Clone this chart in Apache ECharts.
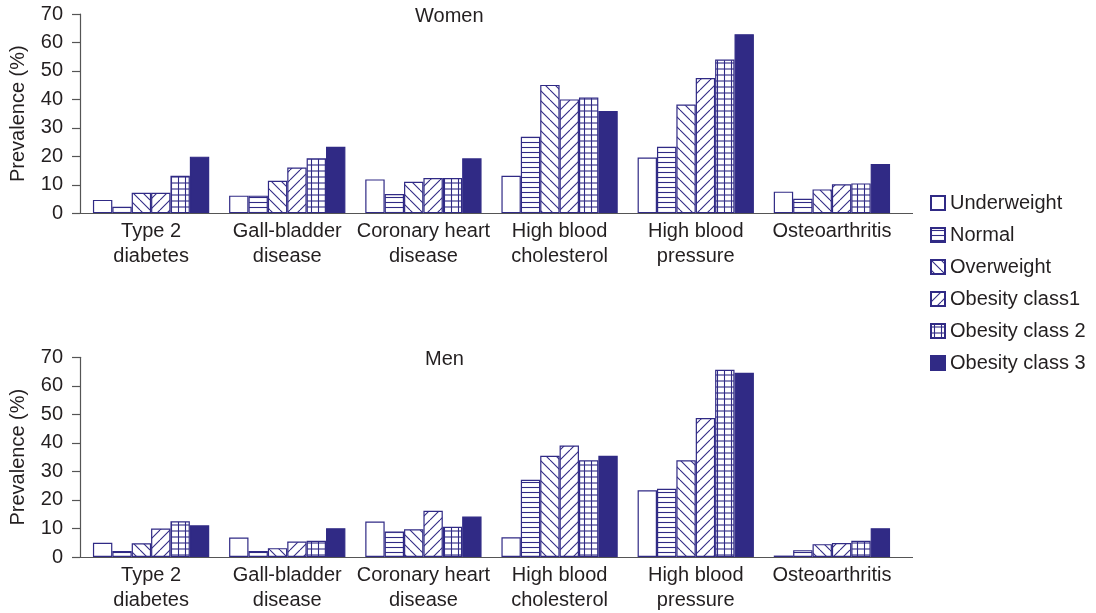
<!DOCTYPE html>
<html>
<head>
<meta charset="utf-8">
<script src="https://cdn.jsdelivr.net/npm/echarts@6/dist/echarts.min.js"></script>
<style>
  html, body { margin: 0; padding: 0; background: #fff; }
  #chart { width: 1096px; height: 613px; }
</style>
</head>
<body>
<div id="chart"></div>
<script>
// Disease categories along the x axis
const categories = ['Type 2\ndiabetes', 'Gall-bladder\ndisease', 'Coronary heart\ndisease',
  'High blood\ncholesterol', 'High blood\npressure', 'Osteoarthritis'];
// BMI groups (one bar series each)
const groups = ['Underweight', 'Normal', 'Overweight', 'Obesity class1', 'Obesity class 2', 'Obesity class 3'];
const yTicks = [0, 10, 20, 30, 40, 50, 60, 70];

// Prevalence (%) – women
const womenUnderweight = [4.7, 6.2, 11.9, 13.2, 19.6, 7.6];
const womenNormal      = [2.3, 6.2, 6.8, 26.9, 23.4, 5.1];
const womenOverweight  = [7.2, 11.4, 11.1, 45.1, 38.2, 8.4];
const womenObesity1    = [7.2, 16.1, 12.4, 40.0, 47.5, 10.2];
const womenObesity2    = [13.2, 19.3, 12.4, 40.7, 54.0, 10.5];
const womenObesity3    = [19.9, 23.4, 19.3, 35.9, 62.9, 17.3];

// Prevalence (%) – men
const menUnderweight = [5.0, 6.8, 12.4, 6.9, 23.4, 0.5];
const menNormal      = [2.1, 2.1, 8.9, 27.1, 23.9, 2.4];
const menOverweight  = [4.8, 3.1, 9.7, 35.5, 33.9, 4.5];
const menObesity1    = [10.0, 5.4, 16.2, 39.1, 48.7, 4.9];
const menObesity2    = [12.5, 5.7, 10.6, 33.9, 65.6, 5.7];
const menObesity3    = [11.1, 10.1, 14.2, 35.5, 64.6, 10.1];

const NAVY = '#302a85';
const AXIS = '#555';
const FONT = '"Liberation Sans", Arial, Helvetica, sans-serif';
const TEXT = '#231f20';
const FS = 20;

// Hatch fills drawn onto small tiles
function makeTile(w, h, draw) {
  const c = document.createElement('canvas');
  c.width = w; c.height = h;
  const ctx = c.getContext('2d');
  ctx.fillStyle = '#fff';
  ctx.fillRect(0, 0, w, h);
  ctx.strokeStyle = NAVY;
  ctx.lineWidth = 1.1;
  draw(ctx, w, h);
  return { image: c, repeat: 'repeat' };
}
function line(ctx, x1, y1, x2, y2) {
  ctx.beginPath(); ctx.moveTo(x1, y1); ctx.lineTo(x2, y2); ctx.stroke();
}
const fills = [
  '#ffffff',
  makeTile(5, 5, (ctx, w, h) => { line(ctx, 0, 2.5, w, 2.5); }),
  makeTile(10, 10, (ctx, w, h) => { for (const k of [-w, 0, w]) line(ctx, k, 0, k + w, h); }),
  makeTile(10, 10, (ctx, w, h) => { for (const k of [-w, 0, w]) line(ctx, k, h, k + w, 0); }),
  makeTile(7, 6, (ctx, w, h) => { line(ctx, 0, 3, w, 3); line(ctx, 3.5, 0, 3.5, h); }),
  NAVY
];

const womenSeries = [womenUnderweight, womenNormal, womenOverweight, womenObesity1, womenObesity2, womenObesity3];
const menSeries = [menUnderweight, menNormal, menOverweight, menObesity1, menObesity2, menObesity3];

function barSeries(values, i, axisIndex) {
  return {
    name: groups[i],
    type: 'bar',
    xAxisIndex: axisIndex,
    yAxisIndex: axisIndex,
    data: values,
    barGap: '0%',
    barCategoryGap: '14.6%',
    itemStyle: { color: fills[i], borderColor: NAVY, borderWidth: 1.2 },
    emphasis: { disabled: true }
  };
}

function xAxis(gridIndex) {
  return {
    type: 'category',
    gridIndex: gridIndex,
    data: categories,
    axisLine: { show: false },
    axisTick: { show: false },
    axisLabel: { color: TEXT, fontFamily: FONT, fontSize: FS, lineHeight: 25, margin: 6, interval: 0 }
  };
}
function yAxis(gridIndex) {
  return {
    type: 'value',
    gridIndex: gridIndex,
    min: yTicks[0],
    max: yTicks[yTicks.length - 1],
    interval: 10,
    offset: 3,
    name: 'Prevalence (%)',
    nameLocation: 'middle',
    nameGap: 52,
    nameTextStyle: { color: TEXT, fontFamily: FONT, fontSize: FS },
    axisLine: { show: true, lineStyle: { color: AXIS, width: 1.2 } },
    axisTick: { show: true, length: 8, lineStyle: { color: AXIS, width: 1.2 } },
    axisLabel: { color: TEXT, fontFamily: FONT, fontSize: FS, margin: 17 },
    splitLine: { show: false }
  };
}

function panelTitles() {
  return [
    { id: 'tWomen', type: 'text', left: 447 - 32, top: 6,
      style: { text: 'Women', fill: TEXT, font: 'normal ' + FS + 'px ' + FONT } },
    { id: 'tMen', type: 'text', left: 447 - 22, top: 349,
      style: { text: 'Men', fill: TEXT, font: 'normal ' + FS + 'px ' + FONT } }
  ];
}

const chart = echarts.init(document.getElementById('chart'), null, { renderer: 'canvas' });
chart.setOption({
  animation: false,
  backgroundColor: '#fff',
  grid: [
    { left: 83, width: 817, top: 14, height: 199.3 },
    { left: 83, width: 817, top: 357.3, height: 200.4 }
  ],
  xAxis: [xAxis(0), xAxis(1)],
  yAxis: [yAxis(0), yAxis(1)],
  legend: {
    orient: 'vertical',
    left: 930,
    top: 193,
    padding: 0,
    itemWidth: 14,
    itemHeight: 14,
    itemGap: 12,
    icon: 'rect',
    data: groups,
    textStyle: { color: TEXT, fontFamily: FONT, fontSize: FS, lineHeight: 20, padding: [0, 0, 0, 0] },
    selectedMode: false
  },
  graphic: panelTitles(),
  series: womenSeries.map((v, i) => barSeries(v, i, 0)).concat(menSeries.map((v, i) => barSeries(v, i, 1)))
});

// Baselines: run from the value axis to just past the last category
const baselines = [0, 1].map(g => {
  const y = Math.round(chart.convertToPixel({ yAxisIndex: g }, 0)) + 0.5;
  return { id: 'base' + g, type: 'line', shape: { x1: 80, y1: y, x2: 913, y2: y },
    style: { stroke: AXIS, lineWidth: 1.2 }, z: 10 };
});
chart.setOption({ graphic: panelTitles().concat(baselines) });
</script>
</body>
</html>
